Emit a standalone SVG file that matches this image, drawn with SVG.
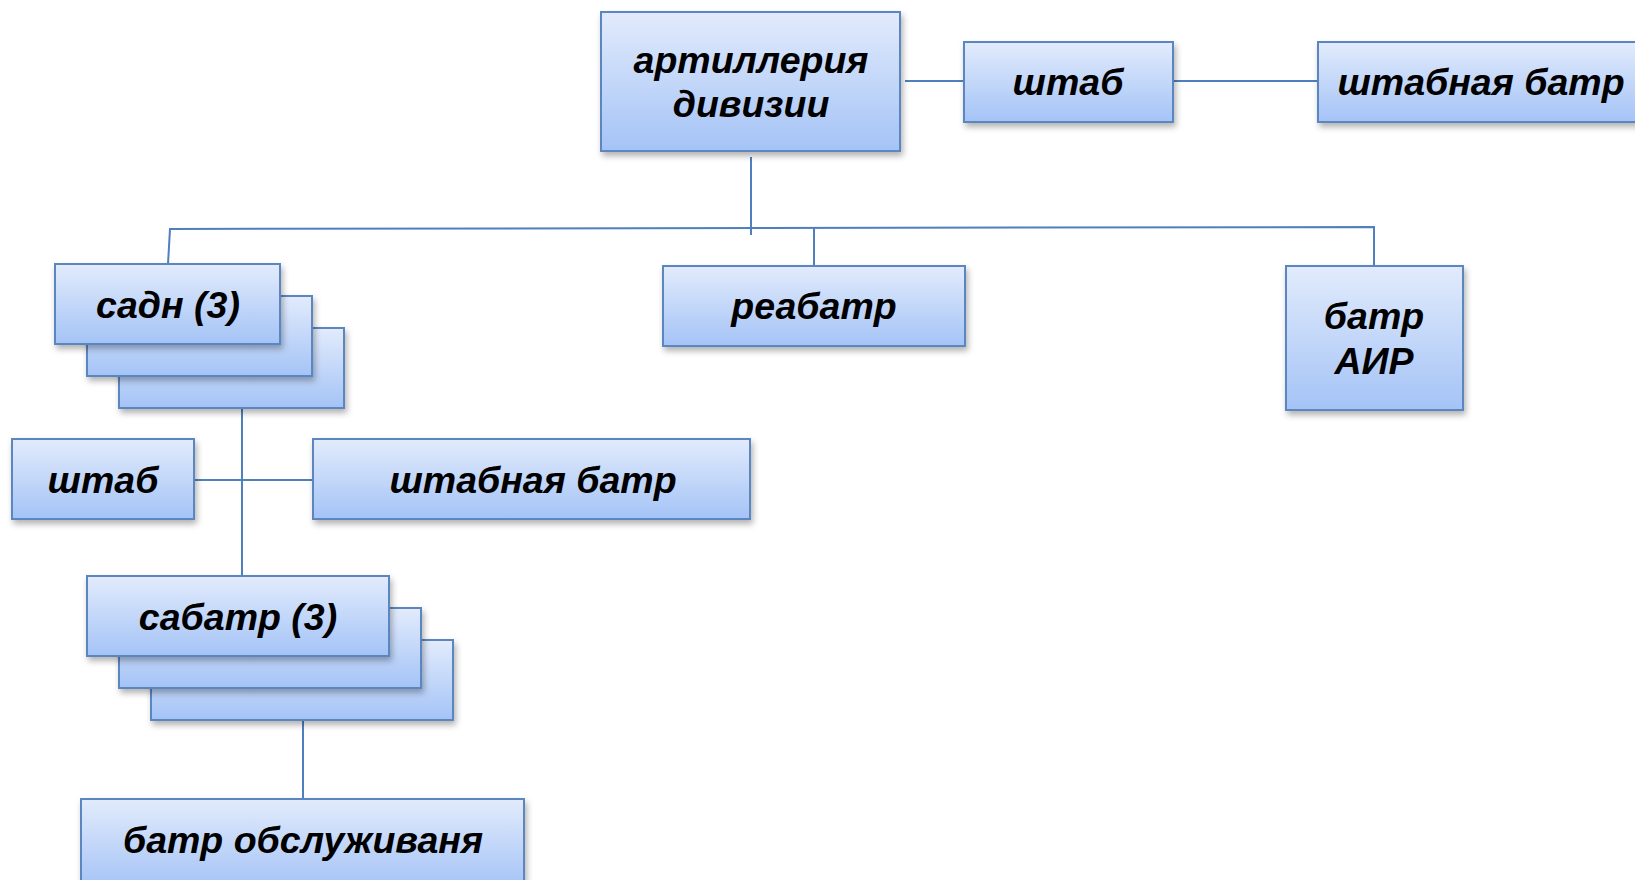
<svg xmlns="http://www.w3.org/2000/svg" width="1635" height="880" viewBox="0 0 1635 880">
<defs>
<linearGradient id="g" x1="0" y1="0" x2="0" y2="1">
<stop offset="0" stop-color="#e2ebfc"/>
<stop offset="1" stop-color="#a4c3f6"/>
</linearGradient>
<filter id="sh" x="-10%" y="-10%" width="130%" height="140%">
<feDropShadow dx="2" dy="4" stdDeviation="3" flood-color="#000" flood-opacity="0.3"/>
</filter>
</defs>
<style>
.b{fill:url(#g);stroke:#5b86c0;stroke-width:2;filter:url(#sh)}
.t{font-family:"Liberation Sans",Arial,sans-serif;font-weight:bold;font-style:italic;font-size:37.5px;fill:#000;text-anchor:middle}
.c{stroke:#4f7fbd;stroke-width:2;fill:none}
</style>
<rect width="1635" height="880" fill="#fff"/>
<g id="connectors">
<line class="c" x1="905" y1="81" x2="964" y2="81"/>
<line class="c" x1="1173" y1="81" x2="1318" y2="81"/>
<line class="c" x1="751" y1="157" x2="751" y2="235"/>
<polyline class="c" points="168,264 170,229 1374,227 1374,266"/>
<line class="c" x1="814" y1="228" x2="814" y2="266"/>
<line class="c" x1="242" y1="408" x2="242" y2="576"/>
<line class="c" x1="194" y1="480" x2="313" y2="480"/>
<line class="c" x1="303" y1="720" x2="303" y2="799"/>
</g>
<g id="art-div">
<rect class="b" x="601" y="12" width="299" height="139"/>
<text class="t" x="751" y="73">артиллерия</text>
<text class="t" x="751" y="117">дивизии</text>
</g>
<g id="shtab-top">
<rect class="b" x="964" y="42" width="209" height="80"/>
<text class="t" x="1068" y="95">штаб</text>
</g>
<g id="shtab-batr-top">
<rect class="b" x="1318" y="42" width="330" height="80"/>
<text class="t" x="1481" y="95">штабная батр</text>
</g>
<g id="sadn">
<rect class="b" x="119" y="328" width="225" height="80"/>
<rect class="b" x="87" y="296" width="225" height="80"/>
<rect class="b" x="55" y="264" width="225" height="80"/>
<text class="t" x="168" y="318">садн (3)</text>
</g>
<g id="reabatr">
<rect class="b" x="663" y="266" width="302" height="80"/>
<text class="t" x="814" y="319">реабатр</text>
</g>
<g id="batr-air">
<rect class="b" x="1286" y="266" width="177" height="144"/>
<text class="t" x="1374" y="329">батр</text>
<text class="t" x="1374" y="374">АИР</text>
</g>
<g id="shtab-left">
<rect class="b" x="12" y="439" width="182" height="80"/>
<text class="t" x="103" y="493">штаб</text>
</g>
<g id="shtab-batr-mid">
<rect class="b" x="313" y="439" width="437" height="80"/>
<text class="t" x="533" y="493">штабная батр</text>
</g>
<g id="sabatr">
<rect class="b" x="151" y="640" width="302" height="80"/>
<rect class="b" x="119" y="608" width="302" height="80"/>
<rect class="b" x="87" y="576" width="302" height="80"/>
<text class="t" x="238" y="630">сабатр (3)</text>
</g>
<g id="batr-obsl">
<rect class="b" x="81" y="799" width="443" height="90"/>
<text class="t" x="303" y="853">батр обслуживаня</text>
</g>
</svg>
